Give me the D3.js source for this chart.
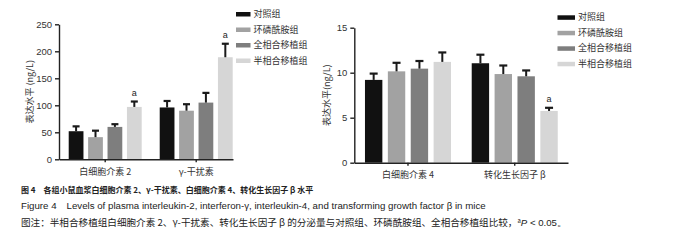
<!DOCTYPE html>
<meta charset="utf-8">
<style>
body { margin: 0; background: #fff; }
text { font-family: "Liberation Sans", Arial, sans-serif; fill: #222; }
.cn { font-family: "Noto Sans CJK SC", sans-serif; }
.axis path, .axis line { stroke: #222; stroke-width: 1.4; }
</style>
<body>
<script src="https://d3js.org/d3.v7.min.js"></script>
<script>

var width = 700,
    height = 241;

// groups and colours
var groups = ["对照组", "环磷酰胺组", "全相合移植组", "半相合移植组"];
var colors = ["#111111", "#a2a2a2", "#7e7e7e", "#d6d6d6"];

// left panel: IL-2 and IFN-gamma (ng/L)
var leftCats = ["白细胞介素 2", "γ-干扰素"];
var il2Means = [52, 41, 60, 97];
var il2Err = [9, 12, 5, 10];
var ifnMeans = [96, 90, 105, 189];
var ifnErr = [12, 12, 18, 25];
var leftTicks = [0, 50, 100, 150, 200, 250];

// right panel: IL-4 and TGF-beta (ng/L)
var rightCats = ["白细胞介素 4", "转化生长因子 β"];
var il4Means = [9.2, 10.15, 10.45, 11.2];
var il4Err = [0.7, 0.95, 0.85, 1.05];
var tgfMeans = [11.05, 9.85, 9.6, 5.75];
var tgfErr = [0.95, 0.95, 0.65, 0.35];
var rightTicks = [0, 5, 10, 15];

// significance marks, one per bar
var il2Sig = ["", "", "", "a"];
var ifnSig = ["", "", "", "a"];
var il4Sig = ["", "", "", ""];
var tgfSig = ["", "", "", "a"];

var svg = d3.select("body").append("svg")
    .attr("width", width)
    .attr("height", height);

function panel(p) {
  var g = svg.append("g");

  var x0 = d3.scaleBand()
      .domain(p.cats)
      .range([p.left, p.right])
      .paddingInner(p.padIn)
      .paddingOuter(p.padOut)
      .align(p.align);

  var x1 = d3.scaleBand()
      .domain(groups)
      .range([0, x0.bandwidth()])
      .paddingInner(0.24);

  var y = d3.scaleLinear()
      .domain([0, p.max])
      .range([p.bottom, p.top]);

  var rows = p.cats.map(function(c, i) {
    return groups.map(function(gr, j) {
      return { cat: c, group: gr, i: j, v: p.means[i][j], e: p.errs[i][j], s: p.sig[i][j] };
    });
  });

  var cat = g.selectAll(".cat")
      .data(rows)
    .enter().append("g")
      .attr("transform", function(d) { return "translate(" + x0(d[0].cat) + ",0)"; });

  cat.selectAll("rect")
      .data(function(d) { return d; })
    .enter().append("rect")
      .attr("x", function(d) { return x1(d.group); })
      .attr("width", x1.bandwidth())
      .attr("y", function(d) { return y(d.v); })
      .attr("height", function(d) { return y(0) - y(d.v); })
      .attr("fill", function(d) { return colors[d.i]; });

  // upper error bars only
  var err = cat.selectAll(".err")
      .data(function(d) { return d; })
    .enter().append("g")
      .attr("transform", function(d) { return "translate(" + (x1(d.group) + x1.bandwidth() / 2) + ",0)"; });

  err.append("line")
      .attr("y1", function(d) { return y(d.v); })
      .attr("y2", function(d) { return y(d.v + d.e); })
      .attr("stroke", "#1a1a1a")
      .attr("stroke-width", 2);

  err.append("line")
      .attr("x1", -p.cap).attr("x2", p.cap)
      .attr("y1", function(d) { return y(d.v + d.e); })
      .attr("y2", function(d) { return y(d.v + d.e); })
      .attr("stroke", "#1a1a1a")
      .attr("stroke-width", 2.2);

  err.append("text")
      .attr("y", function(d) { return y(d.v + d.e) - 6; })
      .attr("text-anchor", "middle")
      .style("font-size", "9px")
      .text(function(d) { return d.s; });

  // axes
  var yAxis = g.append("g")
      .attr("class", "axis")
      .attr("transform", "translate(" + p.left + ",0)")
      .call(d3.axisLeft(y).tickValues(p.ticks).tickSize(4).tickSizeOuter(0));
  yAxis.selectAll("text")
      .attr("x", -7)
      .style("font-size", "9.5px")
      .style("fill", "#333");

  var xAxis = g.append("g")
      .attr("class", "axis")
      .attr("transform", "translate(0," + p.bottom + ")")
      .call(d3.axisBottom(x0).tickSize(3).tickSizeOuter(0));
  xAxis.selectAll("text")
      .attr("class", "cn")
      .attr("y", p.labelDy)
      .style("font-size", "9px")
      .style("fill", "#333");

  g.append("text")
      .attr("class", "cn")
      .attr("transform", "translate(" + p.ylabX + "," + ((p.top + p.bottom) / 2) + ") rotate(-90)")
      .attr("text-anchor", "middle")
      .attr("dy", "0.35em")
      .style("font-size", "9px")
      .style("fill", "#333")
      .text(p.ylab);

  // legend
  var leg = g.selectAll(".leg")
      .data(groups)
    .enter().append("g")
      .attr("transform", function(d, i) { return "translate(" + p.legX + "," + (p.legY + i * p.legStep) + ")"; });

  leg.append("rect")
      .attr("x", 0).attr("y", -2)
      .attr("width", p.swW).attr("height", 4.5)
      .attr("fill", function(d, i) { return colors[i]; });

  leg.append("text")
      .attr("class", "cn")
      .attr("x", p.swW + 3)
      .attr("dy", "0.35em")
      .style("font-size", "9px")
      .style("fill", "#333")
      .text(function(d) { return d; });
}

panel({
  cats: leftCats,
  means: [il2Means, ifnMeans],
  errs: [il2Err, ifnErr],
  sig: [il2Sig, ifnSig],
  ticks: leftTicks,
  max: 250,
  left: 59, right: 233, top: 24.3, bottom: 159.3,
  padIn: 0.198, padOut: 0.055, align: 0.97,
  cap: 3.5,
  labelDy: 9,
  ylab: "表达水平 (ng/L)", ylabX: 29.5,
  legX: 236, legY: 14, legStep: 15.5, swW: 14.5
});

panel({
  cats: rightCats,
  means: [il4Means, tgfMeans],
  errs: [il4Err, tgfErr],
  sig: [il4Sig, tgfSig],
  ticks: rightTicks,
  max: 15,
  left: 354.3, right: 568, top: 27.7, bottom: 162.7,
  padIn: 0.194, padOut: 0.098, align: 0.51,
  cap: 4,
  labelDy: 8.5,
  ylab: "表达水平(ng/L)", ylabX: 327,
  legX: 557.5, legY: 17.3, legStep: 15.5, swW: 17.5
});

// caption
var cap = svg.append("g");
cap.append("text")
    .attr("class", "cn")
    .attr("x", 21).attr("y", 190.5).attr("dy", "0.35em")
    .style("font-size", "8px")
    .style("font-weight", "bold")
    .text("图 4　各组小鼠血浆白细胞介素 2、γ-干扰素、白细胞介素 4、转化生长因子 β 水平");

cap.append("text")
    .attr("x", 21).attr("y", 206).attr("dy", "0.35em")
    .style("font-size", "9.7px")
    .text("Figure 4　Levels of plasma interleukin-2, interferon-γ, interleukin-4, and transforming growth factor β in mice");

var note = cap.append("text")
    .attr("class", "cn")
    .attr("x", 21).attr("y", 222.5).attr("dy", "0.35em")
    .style("font-size", "9.6px");
note.append("tspan").text("图注：半相合移植组白细胞介素 2、γ-干扰素、转化生长因子 β 的分泌量与对照组、环磷酰胺组、全相合移植组比较，");
note.append("tspan").attr("dy", "-3").style("font-size", "6px").text("a");
note.append("tspan").attr("dy", "3").style("font-family", "Liberation Sans, Arial, sans-serif").style("font-style", "italic").text("P");
note.append("tspan").style("font-family", "Liberation Sans, Arial, sans-serif").text(" < 0.05。");

</script>
